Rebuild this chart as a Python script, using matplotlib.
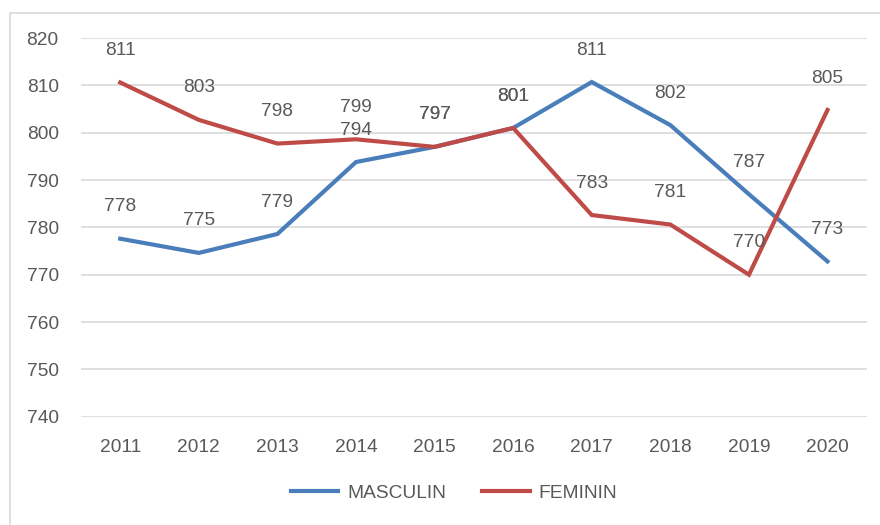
import matplotlib.pyplot as plt
from matplotlib.patches import Rectangle

years = ['2011', '2012', '2013', '2014', '2015', '2016', '2017', '2018', '2019', '2020']
masculin = [777.6, 774.6, 778.6, 793.8, 797.0, 801.0, 810.7, 801.6, 787.0, 772.8]
feminin = [810.6, 802.7, 797.7, 798.6, 797.0, 801.0, 782.6, 780.6, 770.0, 804.8]
masculin_labels = ['778', '775', '779', '794', '797', '801', '811', '802', '787', '773']
feminin_labels = ['811', '803', '798', '799', '797', '801', '783', '781', '770', '805']

blue = '#4A7EBB'
red = '#BE4B48'
grey = '#595959'
fs = 13.8

plt.rcParams['font.family'] = ['Liberation Sans', 'DejaVu Sans']

fig = plt.figure(figsize=(8.8, 5.25), dpi=100)
ax = fig.add_axes([0.092, 0.2063, 0.893, 0.7213])

# chart border (only top/left visible in the original crop)
fig.patches.append(Rectangle((10 / 880, -0.1), 1.2, 1 - 13 / 525 + 0.1,
                             transform=fig.transFigure, fill=False,
                             edgecolor='#D9D9D9', linewidth=1.2))

x = range(len(years))
ax.plot(x, masculin, color=blue, linewidth=3, label='MASCULIN', solid_joinstyle='miter')
ax.plot(x, feminin, color=red, linewidth=3, label='FEMININ', solid_joinstyle='miter')

for i in x:
    ax.annotate(masculin_labels[i], (i, masculin[i]), xytext=(0, 23),
                textcoords='offset points', ha='center', va='center',
                fontsize=fs, color=grey)
    ax.annotate(feminin_labels[i], (i, feminin[i]), xytext=(0, 23),
                textcoords='offset points', ha='center', va='center',
                fontsize=fs, color=grey)

ax.set_xlim(-0.5, len(years) - 0.5)
ax.set_ylim(740, 820)
ax.set_yticks(range(740, 821, 10))
ax.set_xticks(list(x))
ax.set_xticklabels(years)
ax.grid(axis='y', color='#D9D9D9', linewidth=1.2)
ax.set_axisbelow(True)
for s in ax.spines.values():
    s.set_visible(False)
ax.tick_params(length=0, labelsize=fs, colors=grey)
ax.tick_params(axis='y', pad=16)
ax.tick_params(axis='x', pad=16)

fig.legend(loc='center', bbox_to_anchor=(454 / 880, 1 - 493 / 525), ncol=2,
           frameon=False, fontsize=fs, labelcolor=grey, handlelength=2.5,
           columnspacing=1.9, handletextpad=0.45)

fig.savefig('out.png', dpi=100)
